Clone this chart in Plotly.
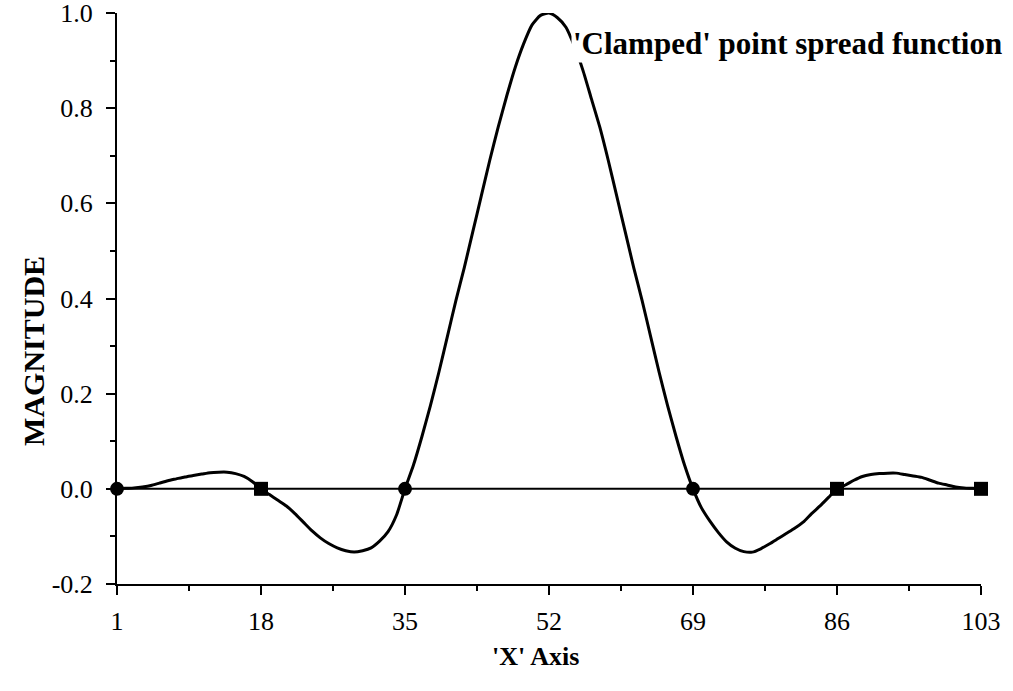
import plotly.graph_objects as go

# ---- data ----
x_vals = list(range(1, 104))
psf = [
    0.000, 0.001, 0.002, 0.004, 0.007, 0.012, 0.017, 0.021, 0.025, 0.028,   # 1-10
    0.031, 0.034, 0.035, 0.035, 0.032, 0.026, 0.015, 0.000, -0.012, -0.024, # 11-20
    -0.036, -0.052, -0.070, -0.088, -0.103, -0.115, -0.124, -0.130, -0.133, -0.130,  # 21-30
    -0.124, -0.110, -0.090, -0.055, 0.000, 0.050, 0.110, 0.175, 0.245, 0.320,  # 31-40
    0.395, 0.465, 0.540, 0.615, 0.690, 0.760, 0.825, 0.885, 0.935, 0.975,  # 41-50
    0.995, 1.000, 0.990, 0.970, 0.930, 0.880, 0.820, 0.760, 0.690, 0.615,  # 51-60
    0.540, 0.465, 0.395, 0.320, 0.245, 0.175, 0.110, 0.050, 0.000, -0.040,  # 61-70
    -0.068, -0.092, -0.112, -0.125, -0.132, -0.133, -0.126, -0.116, -0.105, -0.094,  # 71-80
    -0.083, -0.070, -0.052, -0.036, -0.018, 0.000, 0.008, 0.018, 0.026, 0.030,  # 81-90
    0.032, 0.033, 0.033, 0.030, 0.027, 0.024, 0.018, 0.012, 0.008, 0.004,  # 91-100
    0.002, 0.001, 0.000,  # 101-103
]
zero_x = [1, 18, 35, 69, 86, 103]
zero_y = [0, 0, 0, 0, 0, 0]
zero_symbols = ["circle", "square", "circle", "circle", "square", "square"]

x_ticks = [1, 18, 35, 52, 69, 86, 103]
x_minor = [9.5, 26.5, 43.5, 60.5, 77.5, 94.5]
y_ticks = [-0.2, 0.0, 0.2, 0.4, 0.6, 0.8, 1.0]
y_tick_text = ["-0.2", "0.0", "0.2", "0.4", "0.6", "0.8", "1.0"]

FONT = "Liberation Serif, Times New Roman, serif"

fig = go.Figure()

# zero reference line
fig.add_trace(go.Scatter(
    x=[x_ticks[0], x_ticks[-1]], y=[0, 0], mode="lines",
    line=dict(color="black", width=2), showlegend=False, hoverinfo="skip",
))

# point spread function curve
fig.add_trace(go.Scatter(
    x=x_vals, y=psf, mode="lines",
    line=dict(color="black", width=3, shape="spline", smoothing=0.6),
    showlegend=False, cliponaxis=False,
))

# zero-crossing markers
fig.add_trace(go.Scatter(
    x=zero_x, y=zero_y, mode="markers",
    marker=dict(symbol=zero_symbols, size=14, color="black"),
    showlegend=False, cliponaxis=False,
))

fig.add_annotation(
    x=0.525, y=0.946, xref="paper", yref="paper",
    text="<b>'Clamped' point spread function</b>", showarrow=False,
    xanchor="left", yanchor="middle", bgcolor="white",
    font=dict(family=FONT, size=31, color="black"),
)

# axis titles
fig.add_annotation(
    x=0.484, y=-0.127, xref="paper", yref="paper",
    text="<b>'X' Axis</b>", showarrow=False,
    xanchor="center", yanchor="middle",
    font=dict(family=FONT, size=26, color="black"),
)
fig.add_annotation(
    x=-0.096, y=0.29, xref="paper", yref="y",
    text="<b>MAGNITUDE</b>", showarrow=False, textangle=-90,
    xanchor="center", yanchor="middle",
    font=dict(family=FONT, size=30, color="black"),
)

fig.update_layout(
    width=1013, height=691,
    margin=dict(l=117, r=32, t=13, b=107, autoexpand=False),
    plot_bgcolor="white", paper_bgcolor="white",
    font=dict(family=FONT, size=26, color="black"),
    xaxis=dict(
        range=[1, 103], tickmode="array", tickvals=x_ticks,
        ticktext=[str(v) for v in x_ticks],
        showgrid=False, zeroline=False, showline=True, linecolor="black", linewidth=2,
        ticks="outside", ticklen=9, tickwidth=2, tickcolor="black",
        minor=dict(tickvals=x_minor, ticks="outside", ticklen=5, tickwidth=2, tickcolor="black", showgrid=False),
        tickfont=dict(family=FONT, size=26),
        ticklabelstandoff=4,
        ticklabeloverflow="allow",
        automargin=False,
    ),
    yaxis=dict(
        range=[-0.2, 1.0], tickmode="array", tickvals=y_ticks, ticktext=y_tick_text,
        showgrid=False, zeroline=False, showline=True, linecolor="black", linewidth=2,
        ticks="outside", ticklen=9, tickwidth=2, tickcolor="black",
        minor=dict(dtick=0.1, tick0=0, ticks="outside", ticklen=5, tickwidth=2, tickcolor="black", showgrid=False),
        tickfont=dict(family=FONT, size=26),
        ticklabelstandoff=8,
        ticklabeloverflow="allow",
        automargin=False,
    ),
)

fig.write_html("out.html")
